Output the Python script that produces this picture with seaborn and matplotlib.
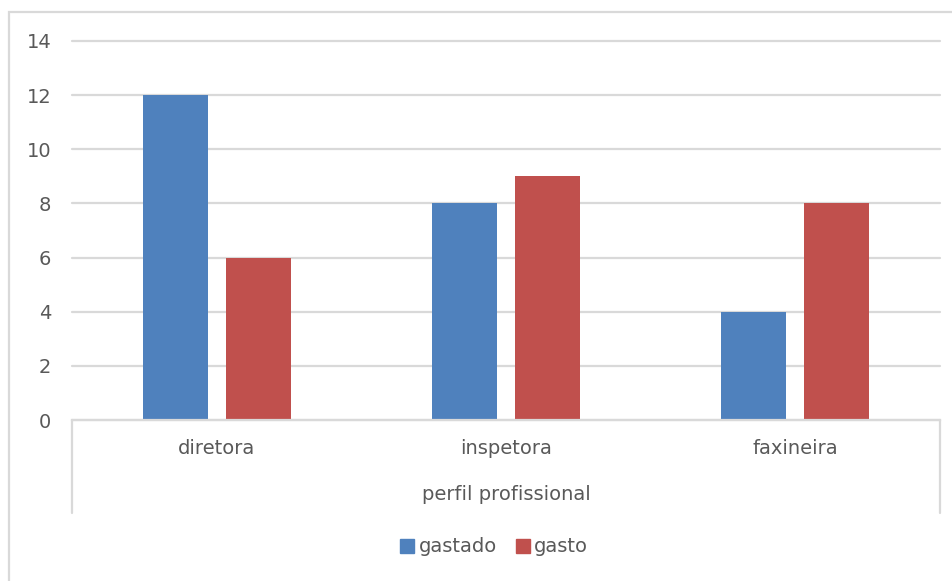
import matplotlib
matplotlib.use("Agg")
import matplotlib.pyplot as plt
from matplotlib.lines import Line2D
from matplotlib.patches import Rectangle
import seaborn as sns
import pandas as pd

categories = ["diretora", "inspetora", "faxineira"]
gastado = [12, 8, 4]
gasto = [6, 9, 8]
series_names = ["gastado", "gasto"]
y_ticks = [0, 2, 4, 6, 8, 10, 12, 14]
axis_title = "perfil profissional"

colors = ["#4F81BD", "#C0504D"]
text_color = "#595959"
line_color = "#D9D9D9"

df = pd.DataFrame({
    "categoria": categories * 2,
    "valor": gastado + gasto,
    "serie": [series_names[0]] * len(categories) + [series_names[1]] * len(categories),
})

sns.set_theme(style="white")
plt.rcParams["font.family"] = ["DejaVu Sans"]

W, H = 952, 581
fig = plt.figure(figsize=(W / 100, H / 100), dpi=100)
ax = fig.add_axes([72 / W, 1 - 420 / H, (940 - 72) / W, (420 - 41) / H])

sns.barplot(data=df, x="categoria", y="valor", hue="serie", order=categories,
            hue_order=series_names, palette=colors, width=0.574, gap=0.216,
            saturation=1, ax=ax, legend=False, edgecolor="none")

ax.set_xlim(-0.5, len(categories) - 0.5)
ax.set_ylim(0, 14)
ax.set_yticks(y_ticks)
ax.set_yticklabels([str(v) for v in y_ticks], fontsize=14, color=text_color)
ax.tick_params(axis="y", length=0, pad=15)
ax.tick_params(axis="x", length=0, pad=14)
ax.set_xticks(range(len(categories)))
ax.set_xticklabels(categories, fontsize=14, color=text_color)
ax.set_xlabel("")
ax.set_ylabel("")
ax.yaxis.grid(True, color=line_color, linewidth=1.6)
for gl in ax.get_ygridlines():
    gl.set_clip_on(False)
ax.set_axisbelow(True)
for side in ["top", "right", "left"]:
    ax.spines[side].set_visible(False)
ax.spines["bottom"].set_color(line_color)
ax.spines["bottom"].set_linewidth(1.6)

# multi-level category axis: outer brackets and the group title
for xp in (72, 940):
    fig.add_artist(Line2D([xp / W, xp / W], [1 - 420 / H, 1 - 513 / H],
                          color=line_color, linewidth=1.6, transform=fig.transFigure))
fig.text(((72 + 940) / 2) / W, 1 - 495 / H, axis_title, ha="center", va="center",
         fontsize=14, color=text_color)

# chart frame
fig.add_artist(Rectangle((9 / W, -0.05), 1.2, 1 - 12 / H + 0.05, fill=False,
                         edgecolor=line_color, linewidth=1.6, transform=fig.transFigure))

handles = [Line2D([], [], marker="s", linestyle="none", markersize=10,
                  markerfacecolor=c, markeredgecolor=c) for c in colors]
leg = fig.legend(handles, series_names, loc="center", bbox_to_anchor=(494 / W, 1 - 547 / H),
                 ncol=2, frameon=False, fontsize=14, handletextpad=0.2,
                 columnspacing=0.9, handlelength=0.8)
for t in leg.get_texts():
    t.set_color(text_color)

fig.savefig("out.png", dpi=100, facecolor="white")
